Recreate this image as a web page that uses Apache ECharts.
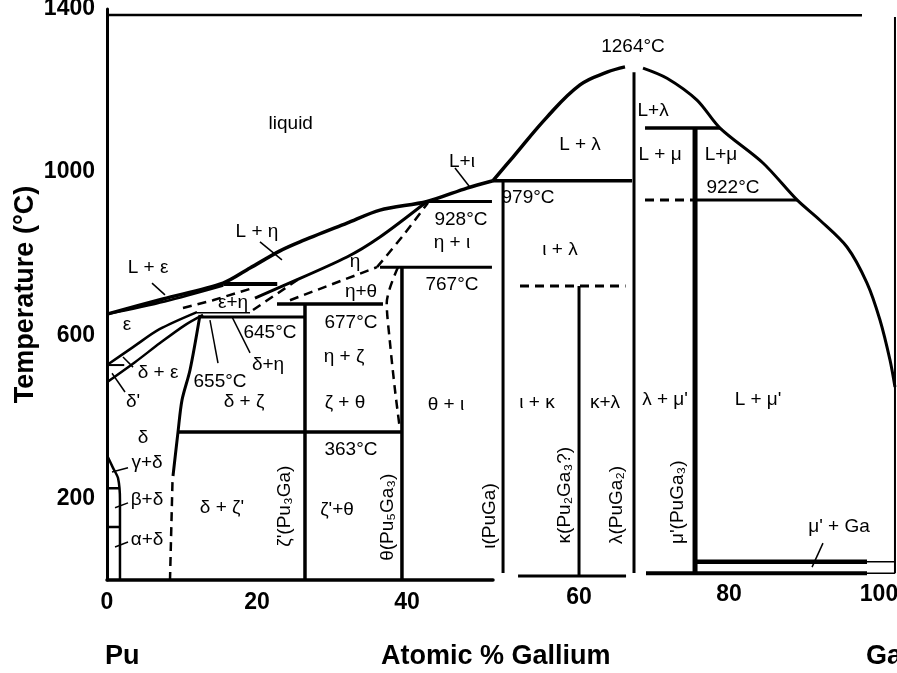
<!DOCTYPE html>
<html>
<head>
<meta charset="utf-8">
<script src="https://cdn.jsdelivr.net/npm/echarts@6/dist/echarts.min.js"></script>
<style>
  html, body { margin: 0; padding: 0; background: #fff; }
  #chart { width: 897px; height: 673px; }
</style>
</head>
<body>
<div id="chart"></div>
<script>
// ticks
const yTicks = [200, 600, 1000, 1400];
const xTicks = [0, 20, 40, 60, 80, 100];

// ---- left panel (Pu side), at.% Ga vs degC ----
const liquidusA = [[0, 652], [7.47, 689], [15.47, 728], [19.07, 765], [23.07, 807], [25.73, 829], [32, 875], [36.4, 907], [42.67, 928], [48, 961], [51.47, 979]];
const epsSolidus = [[0, 652], [7.7, 683], [15.5, 722]];
const epsPeritectic = [[15.5, 726], [22.7, 726]];
const epsSolvus = [[0, 527], [3.47, 571], [7, 615], [12, 657]];
const deltaEps = [[0, 485], [3.73, 534], [7.07, 581], [10.4, 625], [12.8, 650]];
const epsStep = [[0, 527], [2.3, 527]];
const deltaZeta = [[12.4, 650], [11.07, 515], [10, 441], [9.47, 363], [8.8, 255]];
const deltaZetaLow = [[8.73, 240], [8.4, 0]];
const line655 = [[12, 655], [19.07, 655]];
const line645 = [[12.4, 645], [26.4, 645]];
const line677 = [[22.67, 677], [36.8, 677]];
const line363 = [[9.47, 363], [39.33, 363]];
const line767 = [[36.4, 767], [51.33, 767]];
const line928 = [[42.67, 928], [51.33, 928]];
const zetaPhase = [[26.4, 677], [26.4, 0]];
const thetaPhase = [[39.33, 767], [39.33, 0]];
const thetaLeft = [[38.8, 767], [37.3, 679], [37.7, 588], [38.4, 466], [39.07, 368]];
const etaSolidus = [[19.73, 691], [23.07, 718], [32, 792], [36.4, 841], [42.67, 928]];
const etaTheta = [[24.4, 686], [36, 767]];
const etaIota = [[36, 767], [39.5, 845], [42.8, 925]];
const epsEta = [[10.13, 667], [14.13, 686], [19.47, 716]];
const etaLeft = [[19.47, 662], [25.73, 740]];
const deltaLow = [[0, 306], [0.8, 275], [1.47, 250], [1.73, 196], [1.73, 0]];
const gammaStep = [[0, 225], [1.73, 225]];
const betaStep = [[0, 130], [1.73, 130]];
const frameTopA = [[0, 1385], [51.47, 1385]];
const leadersA = [
  [[6, 728], [7.73, 699]],
  [[20.4, 829], [23.33, 785]],
  [[46.4, 1010], [48.4, 963]],
  [[16.67, 645], [19.07, 557]],
  [[13.73, 637], [14.8, 532]],
  [[2.13, 547], [3.47, 522]],
  [[0.67, 507], [2.4, 461]],
  [[0.67, 265], [2.8, 275]],
  [[1.07, 177], [2.8, 189]],
  [[1.07, 81], [2.8, 93]]
];

// ---- middle panel ----
const liquidusB = [[48.53, 979], [51.2, 1037], [55.73, 1135], [60.13, 1214], [63.73, 1245], [66.13, 1258]];
const line979 = [[48.53, 979], [67.07, 979]];
const iotaPhase = [[49.87, 979], [49.87, 17]];
const kappaTop = [[52.13, 721], [66.2, 721]];
const kappaPhase = [[60, 721], [60, 10]];
const lambdaPhase = [[67.33, 1245], [67.33, 17]];
const baseB = [[51.87, 10], [66.27, 10]];
const frameTopB = [[48.53, 1385], [68.13, 1385]];

// ---- right panel (Ga side) ----
const liquidusC = [[68.53, 1247], [71.73, 1222], [75.73, 1168], [78.8, 1099], [84.53, 1013], [89.07, 922], [92.13, 872], [95.73, 806], [98.4, 717], [100.13, 626], [101.47, 527], [102.13, 461]];
const line1099 = [[68.8, 1099], [78.8, 1099]];
const muPhase = [[75.47, 1099], [75.47, 2]];
const line922dash = [[68.8, 922], [75.47, 922]];
const line922 = [[75.47, 922], [89.07, 922]];
const baseC = [[68.93, 2], [98.4, 2]];
const gaLine = [[75.73, 30], [98.4, 30]];
const gaThin = [[[98.4, 30], [102.13, 30]], [[98.4, 2], [102.13, 2]]];
const frameRight = [[102.13, 1373], [102.13, 2]];
const frameTopC = [[68.13, 1377], [97.73, 1377]];
const leadersC = [[[92.53, 76], [91.07, 17]]];

// ---- region / temperature labels ----
const notesA = [
  ['liquid', 24.5, 1118], ['L + ε', 5.47, 765], ['L + η', 20, 853], ['L+ι', 47.33, 1025],
  ['η', 33.07, 780], ['928°C', 47.2, 883], ['η + ι', 46, 826], ['767°C', 46, 723],
  ['η+θ', 33.87, 706], ['677°C', 32.53, 630], ['ε+η', 16.8, 679], ['645°C', 21.73, 606],
  ['ε', 2.67, 625], ['655°C', 15.07, 485], ['δ+η', 21.47, 527], ['δ + ε', 6.8, 507],
  ["δ'", 3.47, 436], ['δ + ζ', 18.27, 436], ['δ', 4.8, 348], ['η + ζ', 31.6, 547],
  ['ζ + θ', 31.73, 434], ['θ + ι', 45.2, 429], ['363°C', 32.53, 319], ["ζ'+θ", 30.67, 172],
  ['γ+δ', 5.33, 287], ['β+δ', 5.33, 196], ['α+δ', 5.33, 98], ["δ + ζ'", 15.33, 177]
];
const phasesA = [['θ(Pu₅Ga₃)', 37.47, 154], ["ζ'(Pu₃Ga)", 23.73, 181], ['ι(PuGa)', 51.07, 157]];
const notesB = [
  ['1264°C', 67.2, 1307], ['L + λ', 60.13, 1066], ['979°C', 53.2, 936],
  ['ι + λ', 57.47, 809], ['ι + κ', 54.4, 434], ['κ+λ', 63.47, 434]
];
const phasesB = [['κ(Pu₂Ga₃?)', 58.13, 208], ['λ(PuGa₂)', 65.07, 184]];
const notesC = [
  ['L+λ', 69.87, 1143], ['L + μ', 70.8, 1033], ['L+μ', 78.93, 1033], ['922°C', 80.53, 951],
  ["λ + μ'", 71.47, 429], ["L + μ'", 83.87, 429], ["μ' + Ga", 94.67, 116]
];
const phasesC = [["μ'(PuGa₃)", 73.2, 177]];

const FONT = 'Liberation Sans, Arial, DejaVu Sans, sans-serif';

function line(data, g, width, dashed, smooth) {
  return {
    type: 'line', xAxisIndex: g, yAxisIndex: g, data: data,
    symbol: 'none', silent: true, animation: false, z: 3,
    smooth: smooth || false,
    lineStyle: { color: '#000', width: width, type: dashed ? [9, 6] : 'solid', cap: 'butt' }
  };
}
function notes(data, g, rotate) {
  return {
    type: 'scatter', xAxisIndex: g, yAxisIndex: g, symbolSize: 0, silent: true, animation: false, z: 5,
    itemStyle: { opacity: 1 },
    data: data.map(d => [d[1], d[2], d[0]]),
    label: {
      show: true, position: 'inside', rotate: rotate || 0, formatter: p => p.value[2],
      color: '#000', opacity: 1, textBorderWidth: 0, fontFamily: FONT, fontSize: 19
    }
  };
}

const series = [
  line(liquidusA, 0, 3.5, false, 0.3), line(epsSolidus, 0, 2.5, false, 0.3), line(epsPeritectic, 0, 4),
  line(epsSolvus, 0, 2.5, false, 0.3), line(deltaEps, 0, 2.5, false, 0.3), line(epsStep, 0, 2),
  line(deltaZeta, 0, 3, false, 0.3), line(deltaZetaLow, 0, 2.5, true),
  line(line655, 0, 1.5), line(line645, 0, 3), line(line677, 0, 3.5), line(line363, 0, 3.5),
  line(line767, 0, 3), line(line928, 0, 3), line(zetaPhase, 0, 3.5), line(thetaPhase, 0, 3.5),
  line(thetaLeft, 0, 2.5, true, 0.3), line(etaSolidus, 0, 3, false, 0.3), line(etaTheta, 0, 2.5, true),
  line(etaIota, 0, 2.5, true, 0.3), line(epsEta, 0, 2.5, true), line(etaLeft, 0, 2.5, true),
  line(deltaLow, 0, 2.5, false, 0.2), line(gammaStep, 0, 2.5), line(betaStep, 0, 2.5), line(frameTopA, 0, 2.5),
  line(liquidusB, 1, 3.5, false, 0.4), line(line979, 1, 3.5), line(iotaPhase, 1, 3), line(kappaTop, 1, 3, true),
  line(kappaPhase, 1, 3), line(lambdaPhase, 1, 3), line(baseB, 1, 3), line(frameTopB, 1, 2.5),
  line(liquidusC, 2, 3, false, 0.3), line(line1099, 2, 3.5), line(muPhase, 2, 5), line(line922dash, 2, 3, true),
  line(line922, 2, 3), line(baseC, 2, 4), line(gaLine, 2, 4.5), line(frameRight, 2, 2),
  line(frameTopC, 2, 2.5),
  notes(notesA, 0), notes(phasesA, 0, 90), notes(notesB, 1), notes(phasesB, 1, 90),
  notes(notesC, 2), notes(phasesC, 2, 90)
];
leadersA.forEach(s => series.push(line(s, 0, 1.5)));
gaThin.forEach(s => series.push(line(s, 2, 1.5)));
leadersC.forEach(s => series.push(line(s, 2, 1.5)));

const tickLabel = { color: '#000', fontFamily: FONT, fontWeight: 'bold', fontSize: 23, formatter: v => String(v) };

function xAxis(g, min, max, margin) {
  return {
    type: 'value', gridIndex: g, min: min, max: max,
    axisLine: { show: g === 0, onZero: false, lineStyle: { color: '#000', width: 3.5 } },
    axisTick: { show: false }, splitLine: { show: false },
    axisLabel: Object.assign({ customValues: xTicks.filter(v => v >= min && v <= max), margin: margin }, tickLabel)
  };
}
function yAxis(g) {
  return {
    type: 'value', gridIndex: g, min: 0, max: 1400, show: g === 0,
    name: 'Temperature (°C)', nameLocation: 'middle', nameGap: 68,
    nameTextStyle: { color: '#000', fontFamily: FONT, fontWeight: 'bold', fontSize: 27 },
    axisLine: { show: true, lineStyle: { color: '#000', width: 3 } },
    axisTick: { show: false }, splitLine: { show: false },
    axisLabel: Object.assign({ customValues: yTicks, margin: 12 }, tickLabel)
  };
}

const chart = echarts.init(document.getElementById('chart'), null, { renderer: 'canvas' });
chart.setOption({
  backgroundColor: '#fff',
  animation: false,
  grid: [
    { left: 107, top: 9, width: 386, height: 571, outerBoundsMode: 'none' },
    { left: 493, top: 9, width: 147, height: 571, outerBoundsMode: 'none' },
    { left: 640, top: 6, width: 257, height: 568, outerBoundsMode: 'none' }
  ],
  xAxis: [xAxis(0, 0, 51.47, 11), xAxis(1, 48.53, 68.13, 6), xAxis(2, 68.13, 102.4, 9)],
  yAxis: [yAxis(0), yAxis(1), yAxis(2)],
  graphic: [
    { type: 'text', left: 381, top: 643, style: { text: 'Atomic % Gallium', font: 'bold 27px ' + FONT, fill: '#000' } },
    { type: 'text', left: 105, top: 643, style: { text: 'Pu', font: 'bold 27px ' + FONT, fill: '#000' } },
    { type: 'text', left: 866, top: 643, style: { text: 'Ga', font: 'bold 27px ' + FONT, fill: '#000' } }
  ],
  series: series
});
</script>
</body>
</html>
